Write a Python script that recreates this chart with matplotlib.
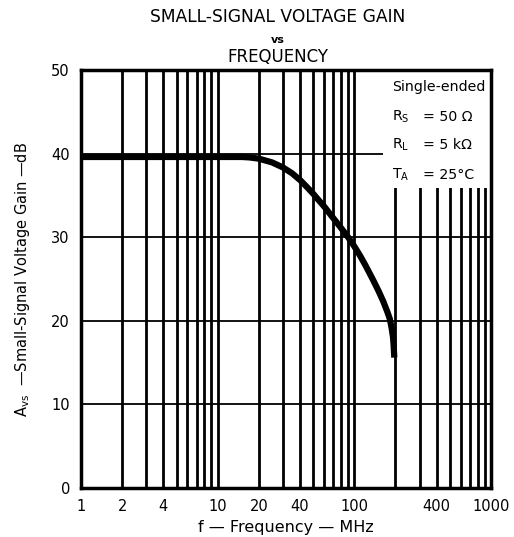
import matplotlib.pyplot as plt
from matplotlib.patches import Rectangle

# curve values
freq_mhz = [1, 10, 15, 17, 20, 25, 30, 35, 40, 45, 50, 55, 60, 70, 80, 90, 100,
            110, 120, 137, 150, 163, 175, 182, 188, 192, 194, 196]
gain_db = [39.6, 39.6, 39.6, 39.55, 39.4, 38.95, 38.35, 37.65, 36.85, 36.0, 35.2, 34.4,
           33.7, 32.3, 31.1, 30.0, 28.9, 27.8, 26.7, 24.9, 23.6, 22.3, 21.0, 20.2,
           19.0, 18.0, 17.0, 15.6]

x_ticks = [1, 2, 4, 10, 20, 40, 100, 400, 1000]
y_ticks = [0, 10, 20, 30, 40, 50]
conditions = ["Single-ended", "R$_\\mathregular{S}$", "R$_\\mathregular{L}$", "T$_\\mathregular{A}$"]
condition_values = ["", "= 50 Ω", "= 5 kΩ", "= 25°C"]

plt.rcParams['font.family'] = ['DejaVu Sans']
fig = plt.figure(figsize=(5.14, 5.37), dpi=100)
ax = fig.add_axes([0.1576, 0.0912, 0.7977, 0.7784])

ax.set_xscale('log')
ax.set_xlim(1, 1000)
ax.set_ylim(0, 50)

# vertical grid lines 2..9, 10..90, 100..900
vlines = [m * 10 ** d for d in range(3) for m in range(1, 10)]
for v in vlines[1:]:
    ax.axvline(v, color='black', lw=2.0, zorder=1)
for h in [10, 20, 30, 40]:
    ax.axhline(h, color='black', lw=1.3, zorder=1)

# blank box for the test conditions
ax.add_patch(Rectangle((162, 35.9), 1000 - 162, 50 - 35.9, facecolor='white',
                       edgecolor='none', zorder=2))

ax.plot(freq_mhz, gain_db, color='black', lw=4.5, solid_capstyle='butt',
        solid_joinstyle='round', zorder=3)

for s in ax.spines.values():
    s.set_linewidth(2.5)
    s.set_zorder(4)

ax.set_xticks(x_ticks)
ax.set_xticklabels([str(t) for t in x_ticks])
ax.xaxis.set_minor_locator(plt.NullLocator())
ax.set_yticks(y_ticks)
ax.tick_params(length=0, labelsize=10.5, pad=8)

ax.set_xlabel("f — Frequency — MHz", fontsize=11.5, labelpad=4)
ax.set_ylabel("A$_\\mathregular{vs}$  —Small-Signal Voltage Gain —dB", fontsize=10.5, labelpad=14)

# condition text in the box
ty = [48.0, 44.4, 41.0, 37.5]
for i in range(4):
    ax.text(188, ty[i], conditions[i], fontsize=10.2, va='center', ha='left', zorder=5)
    if condition_values[i]:
        ax.text(320, ty[i], condition_values[i], fontsize=10.2, va='center', ha='left', zorder=5)

fig.text(0.54, 0.968, "SMALL-SIGNAL VOLTAGE GAIN", ha='center', va='center', fontsize=12.3)
fig.text(0.54, 0.925, "vs", ha='center', va='center', fontsize=8, fontweight='bold')
fig.text(0.54, 0.893, "FREQUENCY", ha='center', va='center', fontsize=12)

fig.savefig("out.png", dpi=100)
